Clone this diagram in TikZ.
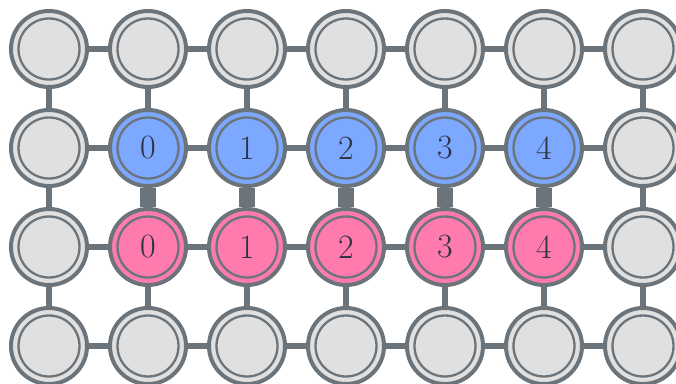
\documentclass[tikz,border=0pt]{standalone}
\usetikzlibrary{backgrounds}
\definecolor{edgegray}{HTML}{6C747B}
\definecolor{sitegray}{HTML}{E0E0E0}
\definecolor{siteblue}{HTML}{7CA8FF}
\definecolor{sitepink}{HTML}{FF7BAE}
\definecolor{labelink}{HTML}{2E3442}
\tikzset{
  site/.style={circle, draw=edgegray, line width=4pt, minimum size=76pt, inner sep=0pt,
    fill=#1, font=\fontsize{34}{36}\selectfont, text=labelink},
  site/.default=sitegray,
  bond/.style={draw=edgegray, line width=6.5pt},
  rung/.style={draw=edgegray, line width=16.5pt},
}
\newcommand{\innerring}[1]{\draw[edgegray, line width=2.3pt] (#1.center) circle[radius=30.5pt];}
\begin{document}
\begin{tikzpicture}[x=1pt, y=-1pt]
\useasboundingbox (0,0) rectangle (676,383);
% lattice sites
\foreach \r in {0,...,3}{
  \foreach \c in {0,...,6}{
    \pgfmathsetmacro{\px}{49+99*\c}
    \pgfmathsetmacro{\py}{49+99*\r}
    \pgfmathtruncatemacro{\k}{\c-1}
    \ifnum\r=1
      \ifnum\c>0 \ifnum\c<6
        \node[site=siteblue] (n-\r-\c) at (\px,\py) {\k};
      \else
        \node[site] (n-\r-\c) at (\px,\py) {};
      \fi\else
        \node[site] (n-\r-\c) at (\px,\py) {};
      \fi
    \else\ifnum\r=2
      \ifnum\c>0 \ifnum\c<6
        \node[site=sitepink] (n-\r-\c) at (\px,\py) {\k};
      \else
        \node[site] (n-\r-\c) at (\px,\py) {};
      \fi\else
        \node[site] (n-\r-\c) at (\px,\py) {};
      \fi
    \else
      \node[site] (n-\r-\c) at (\px,\py) {};
    \fi\fi
    \innerring{n-\r-\c}
  }
}
% bonds behind the sites
\begin{scope}[on background layer]
  \foreach \r in {0,...,3}{
    \foreach \c [evaluate=\c as \cn using int(\c+1)] in {0,...,5}{
      \draw[bond] (n-\r-\c) -- (n-\r-\cn);
    }
  }
  \foreach \c in {0,...,6}{
    \draw[bond] (n-0-\c) -- (n-1-\c);
    \draw[bond] (n-2-\c) -- (n-3-\c);
  }
  \draw[bond] (n-1-0) -- (n-2-0);
  \draw[bond] (n-1-6) -- (n-2-6);
  \foreach \c in {1,...,5}{
    \draw[rung] (n-1-\c) -- (n-2-\c);
  }
\end{scope}
\end{tikzpicture}
\end{document}
